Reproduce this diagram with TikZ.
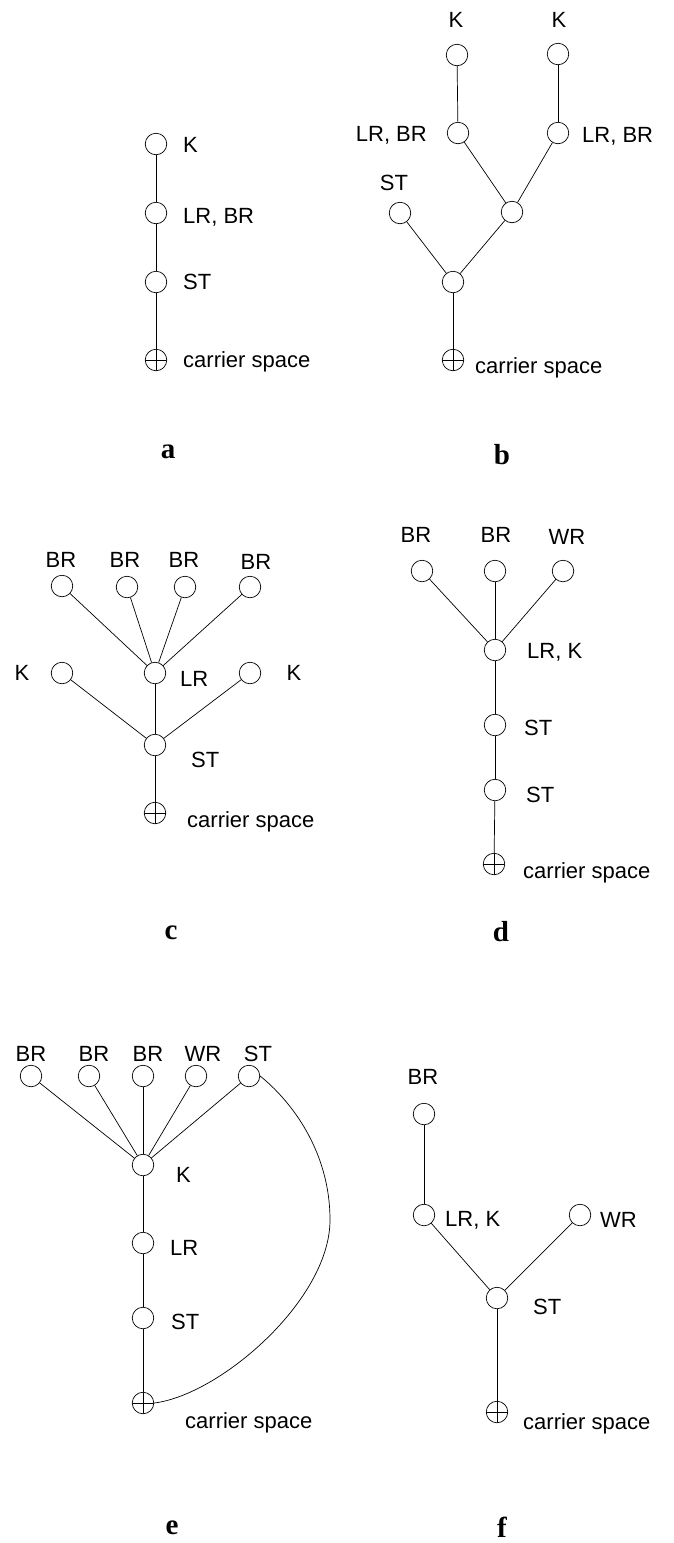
\documentclass[tikz,border=0pt]{standalone}
\usepackage{fontspec}
\setmainfont{Liberation Sans}
\newfontfamily\panelfont{Liberation Serif}
\begin{document}
\begin{tikzpicture}[x=1pt,y=-1pt,
  circ/.style={circle,draw,minimum size=21.5pt,inner sep=0pt,line width=0.7pt},
  carrier/.style={circ,path picture={
      \draw[line width=0.6pt] (path picture bounding box.north) -- (path picture bounding box.south);
      \draw[line width=0.6pt] (path picture bounding box.west) -- (path picture bounding box.east);}},
  lbl/.style={inner sep=0pt,font=\fontsize{22}{25}\selectfont},
  lw/.style={lbl,anchor=west},
  le/.style={lbl,anchor=east},
  ptag/.style={inner sep=0pt,font=\panelfont\fontsize{29}{32}\selectfont\bfseries},
  edge/.style={line width=0.7pt}]
\useasboundingbox (0,0) rectangle (674,1543);

% ---------- a ----------
\node[circ] (aK) at (156,144) {};
\node[circ] (aL) at (156,213) {};
\node[circ] (aS) at (156,282) {};
\node[carrier] (aC) at (156,360) {};
\node[lw] (aKt) at (183,145) {K};
\node[lw] (aLt) at (183,217) {LR, BR};
\node[lw] (aSt) at (183,282) {ST};
\node[lw] (aCt) at (183,362) {carrier space};
\draw[edge] (aK) -- (aL);
\draw[edge] (aL) -- (aS);
\draw[edge] (aS) -- (aC);
\node[ptag] (ta) at (168,452) {a};

% ---------- b ----------
\node[circ] (bK1) at (457,55) {};
\node[circ] (bK2) at (558,54) {};
\node[circ] (bL1) at (458,133) {};
\node[circ] (bL2) at (558,133) {};
\node[circ] (bS) at (400,213) {};
\node[circ] (bM) at (512,212) {};
\node[circ] (bB) at (453,282) {};
\node[carrier] (bC) at (453,360) {};
\node[lbl] (bK1t) at (456,20) {K};
\node[lbl] (bK2t) at (559,20) {K};
\node[le] (bL1t) at (427,135) {LR, BR};
\node[lw] (bL2t) at (582,136) {LR, BR};
\node[lbl] (bSt) at (394,183) {ST};
\node[lw] (bCt) at (475,368) {carrier space};
\draw[edge] (bK1) -- (bL1);
\draw[edge] (bK2) -- (bL2);
\draw[edge] (bL1) -- (bM);
\draw[edge] (bL2) -- (bM);
\draw[edge] (bS) -- (bB);
\draw[edge] (bM) -- (bB);
\draw[edge] (bB) -- (bC);
\node[ptag] (tb) at (502,455) {b};

% ---------- c ----------
\node[circ] (cB1) at (62,586) {};
\node[circ] (cB2) at (127,587) {};
\node[circ] (cB3) at (185,587) {};
\node[circ] (cB4) at (250,587) {};
\node[circ] (cK1) at (62,673) {};
\node[circ] (cL) at (155,673) {};
\node[circ] (cK2) at (250,673) {};
\node[circ] (cS) at (155,745) {};
\node[carrier] (cC) at (155,813) {};
\node[lbl] (cB1t) at (61,560) {BR};
\node[lbl] (cB2t) at (125,560) {BR};
\node[lbl] (cB3t) at (184,560) {BR};
\node[lbl] (cB4t) at (256,562) {BR};
\node[lbl] (cK1t) at (22,673) {K};
\node[lw] (cLt) at (180,679) {LR};
\node[lbl] (cK2t) at (294,673) {K};
\node[lw] (cSt) at (191,760) {ST};
\node[lw] (cCt) at (187,822) {carrier space};
\draw[edge] (cB1) -- (cL);
\draw[edge] (cB2) -- (cL);
\draw[edge] (cB3) -- (cL);
\draw[edge] (cB4) -- (cL);
\draw[edge] (cK1) -- (cS);
\draw[edge] (cL) -- (cS);
\draw[edge] (cK2) -- (cS);
\draw[edge] (cS) -- (cC);
\node[ptag] (tc) at (171,933) {c};

% ---------- d ----------
\node[circ] (dB1) at (422,571) {};
\node[circ] (dB2) at (495,571) {};
\node[circ] (dW) at (563,571) {};
\node[circ] (dL) at (495,650) {};
\node[circ] (dS1) at (495,725) {};
\node[circ] (dS2) at (495,790) {};
\node[carrier] (dC) at (494,864) {};
\node[lbl] (dB1t) at (416,535) {BR};
\node[lbl] (dB2t) at (496,535) {BR};
\node[lbl] (dWt) at (567,537) {WR};
\node[lw] (dLt) at (527,652) {LR, K};
\node[lw] (dS1t) at (524,728) {ST};
\node[lw] (dS2t) at (526,795) {ST};
\node[lw] (dCt) at (523,873) {carrier space};
\draw[edge] (dB1) -- (dL);
\draw[edge] (dB2) -- (dL);
\draw[edge] (dW) -- (dL);
\draw[edge] (dL) -- (dS1);
\draw[edge] (dS1) -- (dS2);
\draw[edge] (dS2) -- (dC);
\node[ptag] (td) at (501,932) {d};

% ---------- e ----------
\node[circ] (eB1) at (31,1076) {};
\node[circ] (eB2) at (89,1076) {};
\node[circ] (eB3) at (143,1076) {};
\node[circ] (eW) at (196,1076) {};
\node[circ] (eT) at (249,1076) {};
\node[circ] (eK) at (143,1165) {};
\node[circ] (eL) at (143,1243) {};
\node[circ] (eS) at (143,1318) {};
\node[carrier] (eC) at (143,1403) {};
\node[lbl] (eB1t) at (31,1054) {BR};
\node[lbl] (eB2t) at (94,1054) {BR};
\node[lbl] (eB3t) at (148,1054) {BR};
\node[lbl] (eWt) at (203,1054) {WR};
\node[lbl] (eTt) at (258,1054) {ST};
\node[lw] (eKt) at (176,1175) {K};
\node[lw] (eLt) at (170,1248) {LR};
\node[lw] (eSt) at (171,1322) {ST};
\node[lw] (eCt) at (185,1423) {carrier space};
\draw[edge] (eB1) -- (eK);
\draw[edge] (eB2) -- (eK);
\draw[edge] (eB3) -- (eK);
\draw[edge] (eW) -- (eK);
\draw[edge] (eT) -- (eK);
\draw[edge] (eK) -- (eL);
\draw[edge] (eL) -- (eS);
\draw[edge] (eS) -- (eC);
\coordinate (eR) at (330,1220);
\draw[edge] (eT.east) .. controls (290,1100) and (330,1150) .. (eR)
  .. controls (330,1300) and (220,1395) .. (eC.east);
\node[ptag] (te) at (172,1528) {e};

% ---------- f ----------
\node[circ] (fB) at (424,1114) {};
\node[circ] (fL) at (424,1215) {};
\node[circ] (fW) at (580,1215) {};
\node[circ] (fS) at (497,1298) {};
\node[carrier] (fC) at (497,1412) {};
\node[lbl] (fBt) at (423,1077) {BR};
\node[lw] (fLt) at (445,1220) {LR, K};
\node[lw] (fWt) at (600,1220) {WR};
\node[lw] (fSt) at (533,1307) {ST};
\node[lw] (fCt) at (523,1424) {carrier space};
\draw[edge] (fB) -- (fL);
\draw[edge] (fL) -- (fS);
\draw[edge] (fW) -- (fS);
\draw[edge] (fS) -- (fC);
\node[ptag] (tf) at (502,1527) {f};
\end{tikzpicture}
\end{document}
